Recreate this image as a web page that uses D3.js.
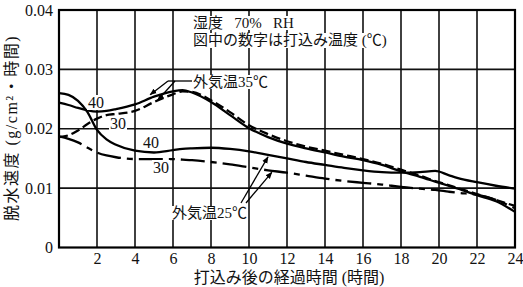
<!DOCTYPE html>
<html>
<head>
<meta charset="utf-8">
<script src="https://cdn.jsdelivr.net/npm/d3@7"></script>
<style>
  body { margin: 0; background: #fff; }
  svg { display: block; }
</style>
</head>
<body>
<svg id="chart"></svg>
<script>
// Data (hours after placing, dehydration rate g/cm2/h)
const hours = [0, 0.5, 1, 1.5, 2, 2.5, 3, 4, 5, 6, 6.5, 7, 8, 9, 10, 11, 12, 13, 14, 15, 16, 17, 18, 19, 19.8, 20.5, 21, 22, 23, 24];

// outside temp 35C, placing temp 40C (solid)
const air35pour40 = [0.0244, 0.0240, 0.0235, 0.0231, 0.0229, 0.0230, 0.0233, 0.0241, 0.0254, 0.0263, 0.0265, 0.0261, 0.0245, 0.0223, 0.0201, 0.0186, 0.0175, 0.0167, 0.0160, 0.0153, 0.0147, 0.0139, 0.0128, 0.0119, 0.0111, 0.0104, 0.0099, 0.0088, 0.0078, 0.0060];
// outside temp 35C, placing temp 30C (dashed)
const air35pour30 = [0.0186, 0.0189, 0.0197, 0.0208, 0.0217, 0.0223, 0.0225, 0.0230, 0.0245, 0.0258, 0.0263, 0.0262, 0.0248, 0.0228, 0.0206, 0.0191, 0.0179, 0.0170, 0.0163, 0.0156, 0.0149, 0.0141, 0.0131, 0.0121, 0.0112, 0.0105, 0.0100, 0.0090, 0.0080, 0.0070];
// outside temp 25C, placing temp 40C (solid)
const air25pour40 = [0.0260, 0.0257, 0.0247, 0.0228, 0.0198, 0.0182, 0.0173, 0.0163, 0.0160, 0.0164, 0.0166, 0.0167, 0.0168, 0.0166, 0.0162, 0.0156, 0.0150, 0.0144, 0.0139, 0.0134, 0.0130, 0.0127, 0.0126, 0.0127, 0.0129, 0.0122, 0.0117, 0.0110, 0.0104, 0.0099];
// outside temp 25C, placing temp 30C (dash-dot)
const air25pour30 = [0.0187, 0.0183, 0.0177, 0.0168, 0.0160, 0.0155, 0.0152, 0.0149, 0.0149, 0.0149, 0.0148, 0.0147, 0.0144, 0.0140, 0.0135, 0.0130, 0.0126, 0.0121, 0.0116, 0.0112, 0.0109, 0.0106, 0.0102, 0.0099, 0.0097, 0.0094, 0.0092, 0.0089, 0.0080, 0.0066];

const xTicks = [2, 4, 6, 8, 10, 12, 14, 16, 18, 20, 22, 24];
const yTicks = [0, 0.01, 0.02, 0.03, 0.04];

const W = 523, H = 287;
const margin = { top: 10, right: 8, bottom: 39.5, left: 59 };
const width = W - margin.left - margin.right;
const height = H - margin.top - margin.bottom;

const serif = '"Liberation Serif", "Noto Sans CJK JP", serif';
const jp = '"Liberation Serif", "Noto Sans CJK JP", sans-serif';

const svg = d3.select('#chart').attr('width', W).attr('height', H);

svg.append('defs').append('marker')
    .attr('id', 'arrow')
    .attr('viewBox', '0 0 10 10')
    .attr('refX', 9).attr('refY', 5)
    .attr('markerWidth', 7).attr('markerHeight', 7)
    .attr('markerUnits', 'userSpaceOnUse')
    .attr('orient', 'auto')
    .append('path')
    .attr('d', 'M0,1 L10,5 L0,9 Z')
    .attr('fill', '#000');

const g = svg.append('g').attr('transform', `translate(${margin.left},${margin.top})`);

const x = d3.scaleLinear().domain([0, 24]).range([0, width]);
const y = d3.scaleLinear().domain([0, 0.04]).range([height, 0]);

// Grid
g.append('g').selectAll('line')
    .data(xTicks.filter(d => d < 24))
    .enter().append('line')
    .attr('x1', d => x(d)).attr('x2', d => x(d))
    .attr('y1', 0).attr('y2', height)
    .attr('stroke', '#111').attr('stroke-width', 1.6);

g.append('g').selectAll('line')
    .data(yTicks.filter(d => d > 0 && d < 0.04))
    .enter().append('line')
    .attr('x1', 0).attr('x2', width)
    .attr('y1', d => y(d)).attr('y2', d => y(d))
    .attr('stroke', '#111').attr('stroke-width', 1.6);

// Frame
g.append('rect')
    .attr('x', 0).attr('y', 0)
    .attr('width', width).attr('height', height)
    .attr('fill', 'none')
    .attr('stroke', '#000').attr('stroke-width', 2.2);

// Axes (labels only)
const xAxis = g.append('g')
    .attr('transform', `translate(0,${height})`)
    .call(d3.axisBottom(x).tickValues(xTicks).tickSize(0).tickPadding(5));
xAxis.select('.domain').remove();
xAxis.selectAll('text').attr('font-family', serif).attr('font-size', 16).attr('fill', '#111');

const yAxis = g.append('g')
    .call(d3.axisLeft(y).tickValues(yTicks).tickSize(0).tickPadding(6)
        .tickFormat(d => d === 0 ? '0' : d3.format('.2f')(d)));
yAxis.select('.domain').remove();
yAxis.selectAll('text').attr('font-family', serif).attr('font-size', 16).attr('fill', '#111');

// Curves
const line = d3.line()
    .x(d => x(d[0]))
    .y(d => y(d[1]))
    .curve(d3.curveMonotoneX);

const series = [
    { values: air35pour40, dash: null },
    { values: air35pour30, dash: '9,4' },
    { values: air25pour40, dash: null },
    { values: air25pour30, dash: '24,6,6,6' }
];

g.append('g').selectAll('path')
    .data(series)
    .enter().append('path')
    .attr('d', s => line(hours.map((h, i) => [h, s.values[i]])))
    .attr('fill', 'none')
    .attr('stroke', '#000')
    .attr('stroke-width', 2.3)
    .attr('stroke-dasharray', s => s.dash);

// Text with white backing
function label(txt, px, py, size, family, anchor) {
    const t = svg.append('text')
        .attr('x', px).attr('y', py)
        .attr('font-family', family)
        .attr('font-size', size)
        .attr('text-anchor', anchor || 'start')
        .attr('fill', '#111')
        .text(txt);
    const b = t.node().getBBox();
    svg.insert('rect', () => t.node())
        .attr('x', b.x - 1).attr('y', b.y + 1)
        .attr('width', b.width + 2).attr('height', b.height - 2)
        .attr('fill', '#fff');
    return t;
}

label('湿度\u2002 70%\u2002 RH', 193, 28, 15, jp).attr('xml:space', 'preserve');
label('図中の数字は打込み温度 (℃)', 193, 45, 15, jp);
label('外気温35℃', 193, 87, 15, jp);
label('外気温25℃', 172, 218, 15, jp);

// Curve temperature labels
label('40', 96, 108, 16, serif, 'middle');
label('30', 118, 129, 16, serif, 'middle');
label('40', 151, 148, 16, serif, 'middle');
label('30', 161, 173, 16, serif, 'middle');

// Leader lines for 35C
svg.append('line')
    .attr('x1', 192).attr('y1', 81).attr('x2', 168).attr('y2', 81)
    .attr('stroke', '#000').attr('stroke-width', 1.3);
svg.append('line')
    .attr('x1', 168).attr('y1', 81).attr('x2', margin.left + x(4.8)).attr('y2', margin.top + y(air35pour40[8]) - 2)
    .attr('stroke', '#000').attr('stroke-width', 1.3)
    .attr('marker-end', 'url(#arrow)');
svg.append('line')
    .attr('x1', 175).attr('y1', 81).attr('x2', margin.left + x(5.2)).attr('y2', margin.top + y(air35pour30[8]) - 2)
    .attr('stroke', '#000').attr('stroke-width', 1.3)
    .attr('marker-end', 'url(#arrow)');

// Leader lines for 25C
svg.append('line')
    .attr('x1', 241).attr('y1', 203).attr('x2', margin.left + x(11)).attr('y2', margin.top + y(air25pour40[15]) + 2)
    .attr('stroke', '#000').attr('stroke-width', 1.3)
    .attr('marker-end', 'url(#arrow)');
svg.append('line')
    .attr('x1', 246).attr('y1', 203).attr('x2', margin.left + x(11.2)).attr('y2', margin.top + y(air25pour30[15]) + 2)
    .attr('stroke', '#000').attr('stroke-width', 1.3)
    .attr('marker-end', 'url(#arrow)');

// Axis titles
svg.append('text')
    .attr('transform', 'translate(17,128) rotate(-90)')
    .attr('text-anchor', 'middle')
    .attr('font-family', jp)
    .attr('font-size', 16)
    .attr('letter-spacing', 1.5)
    .attr('fill', '#111')
    .text('脱水速度 (g/cm²・時間)');

svg.append('text')
    .attr('x', 289).attr('y', 283)
    .attr('text-anchor', 'middle')
    .attr('font-family', jp)
    .attr('font-size', 16)
    .attr('fill', '#111')
    .text('打込み後の経過時間 (時間)');
</script>
</body>
</html>
